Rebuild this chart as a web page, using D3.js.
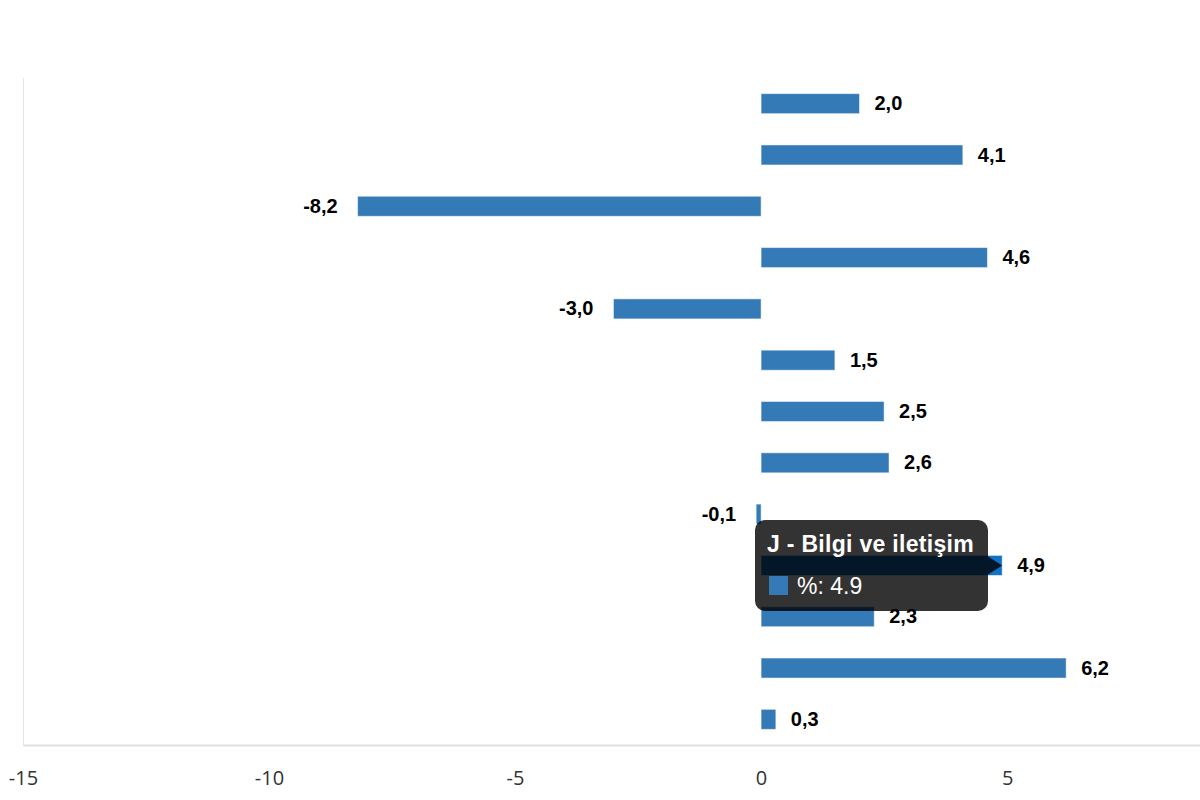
<!DOCTYPE html>
<html>
<head>
<meta charset="utf-8">
<script src="https://cdn.jsdelivr.net/npm/d3@7"></script>
<style>
  html, body { margin: 0; padding: 0; background: #fff; }
  svg { display: block; }
</style>
</head>
<body>
<svg id="chart" width="1200" height="800"></svg>
<script>
const categories = [
  "A - Tarım, ormancılık ve balıkçılık",
  "B - Madencilik ve taşocakçılığı",
  "C - İmalat",
  "D - Elektrik, gaz, buhar ve iklimlendirme üretimi ve dağıtımı",
  "E - Su temini; kanalizasyon, atık yönetimi ve iyileştirme faaliyetleri",
  "F - İnşaat",
  "G - Toptan ve perakende ticaret",
  "H - Ulaştırma ve depolama",
  "I - Konaklama ve yiyecek hizmeti faaliyetleri",
  "J - Bilgi ve iletişim",
  "K - Finans ve sigorta faaliyetleri",
  "L - Gayrimenkul faaliyetleri",
  "M - Mesleki, bilimsel ve teknik faaliyetler"
];
const values = [2.0, 4.1, -8.2, 4.6, -3.0, 1.5, 2.5, 2.6, -0.1, 4.9, 2.3, 6.2, 0.3];
const tickValues = [-15, -10, -5, 0, 5];
const seriesName = "%";
const hoveredIndex = 9;

const svg = d3.select("#chart");
const plot = { left: 23, right: 1200, top: 78, bottom: 745 };

const x = d3.scaleLinear().domain([-15, 8.92]).range([plot.left, plot.right]);
const y = d3.scaleBand().domain(categories).range([plot.top, plot.bottom]).paddingInner(0).paddingOuter(0);
const barH = y.bandwidth() * 0.39;

// left axis line
svg.append("line")
  .attr("x1", plot.left + 0.5).attr("x2", plot.left + 0.5)
  .attr("y1", plot.top).attr("y2", plot.bottom)
  .attr("stroke", "#e1e6ec").attr("stroke-width", 1);

// bottom axis
const xAxis = d3.axisBottom(x).tickValues(tickValues).tickSize(0);
const gx = svg.append("g").attr("transform", `translate(0,${plot.bottom})`).call(xAxis);
gx.select(".domain").attr("stroke", "#e0e0e0").attr("stroke-width", 2);
gx.selectAll("text")
  .attr("dy", null)
  .attr("y", 40)
  .attr("fill", "#333")
  .style("font-family", "'Open Sans', sans-serif")
  .style("font-size", "20px")
  .text(d => (d < 0 ? "-" : "") + Math.abs(d));

// bars
const data = categories.map((c, i) => ({ c, v: values[i], i }));
svg.append("g").selectAll("rect").data(data).join("rect")
  .attr("x", d => x(Math.min(0, d.v)))
  .attr("y", d => y(d.c) + (y.bandwidth() - barH) / 2)
  .attr("width", d => Math.abs(x(d.v) - x(0)))
  .attr("height", barH)
  .attr("fill", d => d.i === hoveredIndex ? "#0f72c6" : "#337ab7")
  .attr("stroke", "rgba(255,255,255,0.5)")
  .attr("stroke-width", 1);

// value labels
const fmt = v => (v < 0 ? "-" : "") + Math.abs(v).toFixed(1).replace(".", ",");
svg.append("g").selectAll("text").data(data).join("text")
  .attr("x", d => d.v >= 0 ? x(d.v) + 15 : x(d.v) - 20)
  .attr("y", d => y(d.c) + y.bandwidth() / 2)
  .attr("dy", "0.33em")
  .attr("text-anchor", d => d.v >= 0 ? "start" : "end")
  .attr("fill", "#000")
  .style("font-family", "'Liberation Sans', Arial, sans-serif")
  .style("font-weight", "bold")
  .style("font-size", "20px")
  .text(d => fmt(d.v));

// tooltip
const hd = data[hoveredIndex];
const cy = y(hd.c) + y.bandwidth() / 2;
const tip = svg.append("g");
const tx = 755, ty = 520, tw = 233, th = 91, r = 10;
const tipPath = d3.path();
tipPath.moveTo(tx + r, ty);
tipPath.lineTo(tx + tw - r, ty);
tipPath.arcTo(tx + tw, ty, tx + tw, ty + r, r);
tipPath.lineTo(tx + tw, cy - 9);
tipPath.lineTo(x(hd.v), cy);
tipPath.lineTo(tx + tw, cy + 9);
tipPath.lineTo(tx + tw, ty + th - r);
tipPath.arcTo(tx + tw, ty + th, tx + tw - r, ty + th, r);
tipPath.lineTo(tx + r, ty + th);
tipPath.arcTo(tx, ty + th, tx, ty + th - r, r);
tipPath.lineTo(tx, ty + r);
tipPath.arcTo(tx, ty, tx + r, ty, r);
tipPath.closePath();
tip.append("path").attr("d", tipPath.toString()).attr("fill", "rgba(0,0,0,0.8)");
tip.append("text")
  .attr("x", tx + 12).attr("y", ty + 32)
  .attr("fill", "#fff")
  .style("font-family", "'Liberation Sans', Arial, sans-serif")
  .style("font-weight", "bold")
  .style("font-size", "23px")
  .style("letter-spacing", "0.3px")
  .text(hd.c);
tip.append("rect")
  .attr("x", tx + 14).attr("y", ty + 56).attr("width", 19).attr("height", 19)
  .attr("fill", "#337ab7");
tip.append("text")
  .attr("x", tx + 42).attr("y", ty + 74)
  .attr("fill", "#fff")
  .style("font-family", "'Liberation Sans', Arial, sans-serif")
  .style("font-size", "23px")
  .text(`${seriesName}: ${hd.v}`);
</script>
</body>
</html>
